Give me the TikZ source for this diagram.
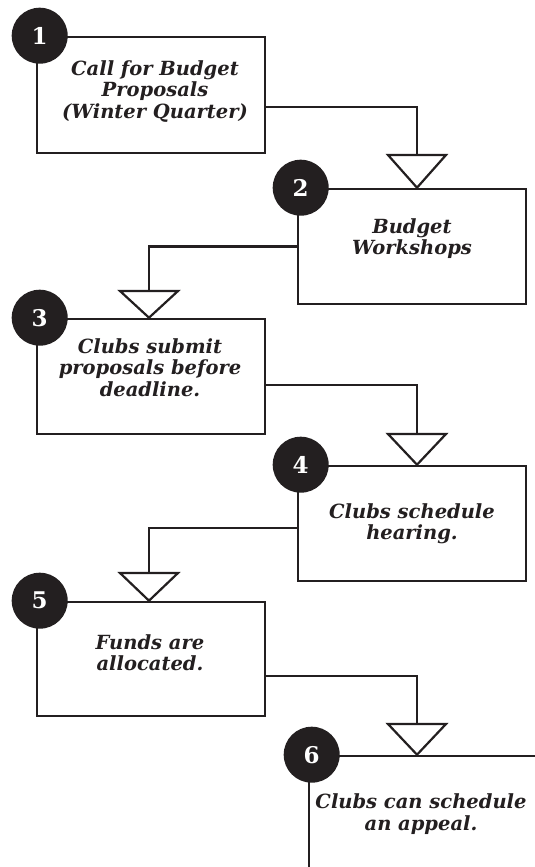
\documentclass[tikz,border=0pt]{standalone}
\usepackage{fontspec}
\setmainfont{DejaVu Serif}
\definecolor{ink}{HTML}{231F20}
\begin{document}
\begin{tikzpicture}[x=1pt,y=-1pt,
  box/.style={draw=ink, line width=2.6pt, minimum width=228pt, inner sep=0pt},
  txt/.style={font=\fontsize{19.5}{21.5}\selectfont\bfseries\itshape, align=center, inner sep=0pt, text=ink},
  badge/.style={circle, fill=ink, minimum size=56pt, inner sep=0pt, text=white, font=\fontsize{23}{23}\selectfont\bfseries},
  conn/.style={draw=ink, line width=2.2pt},
  tri/.style={draw=ink, line width=2.2pt, line join=miter, fill=white}]
\path[use as bounding box, fill=white] (0,0) rectangle (535,867);
\clip (0,0) rectangle (535,867);
% boxes
\node[box, minimum height=116pt] (b1) at (151,95) {};
\node[box, minimum height=115pt] (b2) at (412,246.5) {};
\node[box, minimum height=115pt] (b3) at (151,376.5) {};
\node[box, minimum height=115pt] (b4) at (412,523.5) {};
\node[box, minimum height=114pt] (b5) at (151,659) {};
\node[box, minimum height=140pt] (b6) at (423,826) {};
% triangle tops
\coordinate (t2) at (417,155);
\coordinate (t3) at (149,291);
\coordinate (t4) at (417,434);
\coordinate (t5) at (149,573);
\coordinate (t6) at (417,724);
% connectors
\draw[conn] ([yshift=-12pt]b1.east) -| (t2);
\draw[conn] (b2.west) -| (t3);
\draw[conn] ([yshift=-8.5pt]b3.east) -| (t4);
\draw[conn] ([yshift=-4.5pt]b4.west) -| (t5);
\draw[conn] ([yshift=-17pt]b5.east) -| (t6);
% triangles
\draw[tri] (t2) ++(-29,0) -- ++(58,0) -- (b2.north -| t2) -- cycle;
\draw[tri] (t3) ++(-29,0) -- ++(58,0) -- (b3.north -| t3) -- cycle;
\draw[tri] (t4) ++(-29,0) -- ++(58,0) -- (b4.north -| t4) -- cycle;
\draw[tri] (t5) ++(-29,0) -- ++(58,0) -- (b5.north -| t5) -- cycle;
\draw[tri] (t6) ++(-29,0) -- ++(58,0) -- (b6.north -| t6) -- cycle;
% badges
\node[badge] (n1) at ([xshift=4pt]b1.north west) {1};
\node[badge] (n2) at ([xshift=4pt]b2.north west) {2};
\node[badge] (n3) at ([xshift=4pt]b3.north west) {3};
\node[badge] (n4) at ([xshift=4pt]b4.north west) {4};
\node[badge] (n5) at ([xshift=4pt]b5.north west) {5};
\node[badge] (n6) at ([xshift=4pt]b6.north west) {6};
% texts
\node[txt] (l1) at (155,91.5) {Call for Budget\\Proposals\\(Winter Quarter)};
\node[txt] (l2) at (412,238.5) {Budget\\Workshops};
\node[txt] (l3) at (150,367.5) {Clubs submit\\proposals before\\deadline.};
\node[txt] (l4) at (412,524) {Clubs schedule\\hearing.};
\node[txt] (l5) at (150,652.5) {Funds are\\allocated.};
\node[txt] (l6) at (421,814) {Clubs can schedule\\an appeal.};
\end{tikzpicture}
\end{document}
